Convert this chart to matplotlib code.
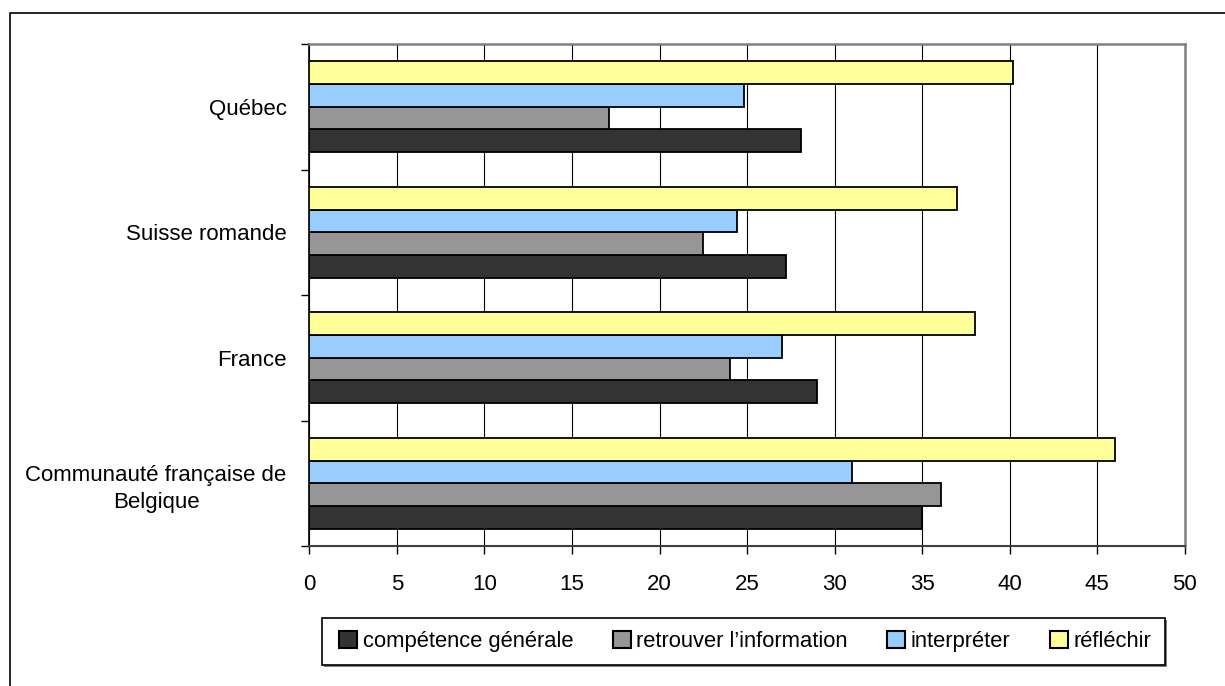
import matplotlib
matplotlib.use("Agg")
import matplotlib.pyplot as plt
from matplotlib.patches import Rectangle, Patch
import numpy as np

# Data: scores by region (top-to-bottom display order)
categories = ["Québec", "Suisse romande", "France", "Communauté française de\nBelgique"]
series_names = ["compétence générale", "retrouver l’information", "interpréter", "réfléchir"]
competence_generale = [28.1, 27.2, 29.0, 35.0]
retrouver_information = [17.1, 22.5, 24.0, 36.1]
interpreter = [24.8, 24.4, 27.0, 31.0]
reflechir = [40.2, 37.0, 38.0, 46.0]
x_ticks = [0, 5, 10, 15, 20, 25, 30, 35, 40, 45, 50]

colors = ["#333333", "#969696", "#99CCFF", "#FFFF99"]

plt.rcParams["font.family"] = ["Liberation Sans", "DejaVu Sans"]
FS = 16
FS_LEG = 15.8

W, H = 1225, 686
fig = plt.figure(figsize=(W / 100, H / 100), dpi=100)
fig.patch.set_facecolor("white")


def px_rect(x0, y0, x1, y1, **kw):
    """Rectangle given in figure pixels measured from the top-left corner."""
    return Rectangle((x0 / W, 1 - y1 / H), (x1 - x0) / W, (y1 - y0) / H,
                     transform=fig.transFigure, clip_on=False, **kw)


# outer chart frame (runs off the right and bottom edges)
fig.add_artist(px_rect(10, 13, 1300, 760, fill=False, edgecolor="black", linewidth=1.2))

left, right, top, bottom = 309.5, 1184.5, 44, 546
ax = fig.add_axes([left / W, 1 - bottom / H, (right - left) / W, (bottom - top) / H])

n = len(categories)
ypos = np.arange(n)[::-1]  # first category at the top
bar_h = 0.181
all_series = [competence_generale, retrouver_information, interpreter, reflechir]
for k, (vals, col, name) in enumerate(zip(all_series, colors, series_names)):
    offs = (k - 1.5) * bar_h
    ax.barh(ypos + offs, vals, height=bar_h, color=col, edgecolor="black",
            linewidth=1.3, label=name, zorder=3)

ax.set_xlim(0, 50)
ax.set_ylim(-0.5, n - 0.5)
ax.set_xticks(x_ticks)
ax.set_xticklabels([str(t) for t in x_ticks], fontsize=FS)
ax.xaxis.grid(True, color="black", linewidth=0.8, zorder=0)
ax.set_axisbelow(True)

ax.set_yticks(ypos)
ax.set_yticklabels(categories, fontsize=FS, multialignment="center", linespacing=1.4)
ax.set_yticks(np.arange(n + 1) - 0.5, minor=True)
ax.tick_params(axis="y", which="major", length=0, pad=16.5)
ax.tick_params(axis="y", which="minor", length=6, width=1, color="black", direction="out")
ax.tick_params(axis="x", which="major", length=6, width=1, color="black", direction="out", pad=14)

for side in ["top", "right"]:
    ax.spines[side].set_color("#808080")
    ax.spines[side].set_linewidth(1.8)
ax.spines["left"].set_color("black")
ax.spines["left"].set_linewidth(1.2)
ax.spines["bottom"].set_color("#404040")
ax.spines["bottom"].set_linewidth(1.5)

# legend box with a light shadow
fig.add_artist(px_rect(324, 620, 1167, 667, facecolor="#808080", edgecolor="none", zorder=1))
fig.add_artist(px_rect(322, 618, 1165, 665, facecolor="white", edgecolor="black",
                       linewidth=1.2, zorder=2))

handles = [Patch(facecolor=c, edgecolor="black", linewidth=1.5) for c in colors]
leg = fig.legend(handles, series_names, loc="center",
                 bbox_to_anchor=(745 / W, 1 - 641.5 / H), ncol=4, fontsize=FS_LEG,
                 frameon=False, handlelength=0.82, handleheight=0.8, handletextpad=0.25,
                 columnspacing=1.8, borderpad=0, borderaxespad=0)
leg.set_zorder(3)

fig.savefig("out.png", dpi=100, facecolor="white")
